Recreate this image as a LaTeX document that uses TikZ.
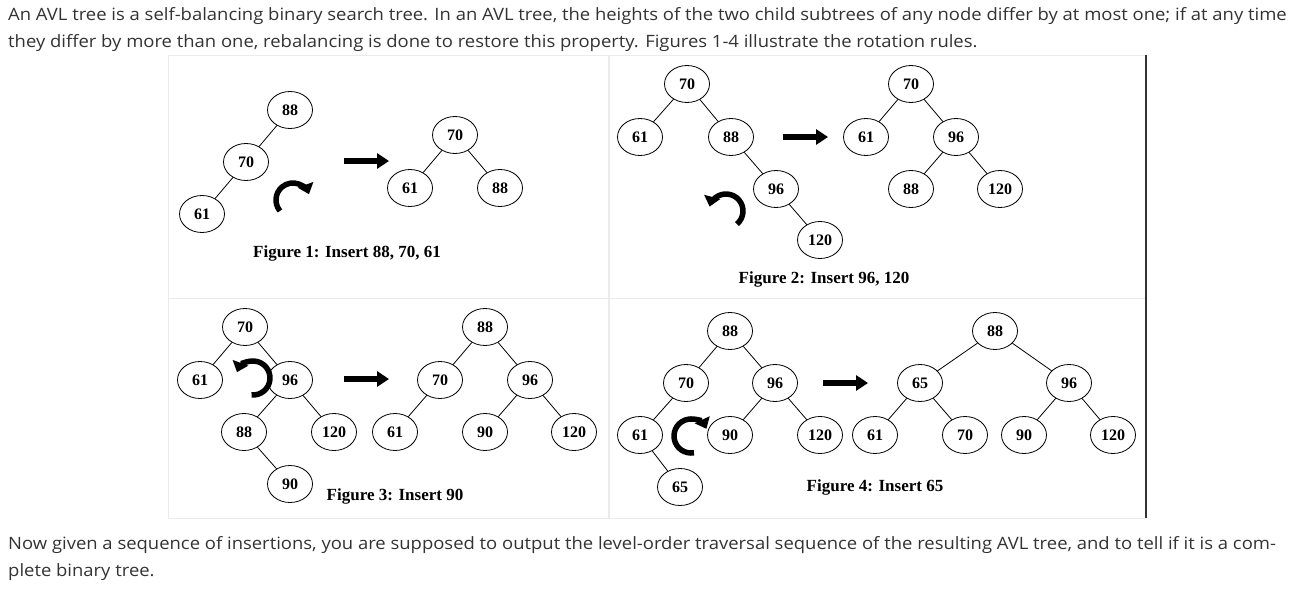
\documentclass[tikz,border=0pt]{standalone}
\usepackage{fontspec}
\setmainfont{Liberation Serif}
\newfontfamily\uifont[FakeStretch=1.085]{Open Sans}
\usetikzlibrary{shapes.geometric,arrows.meta}

\definecolor{txtgray}{HTML}{333333}
\definecolor{framegray}{HTML}{EBEBEB}

\begin{document}
\begin{tikzpicture}[
    x=1pt, y=-1pt,
    tnode/.style={ellipse, draw, line width=0.8pt, minimum width=45pt, minimum height=37pt, inner sep=0pt, font=\fontsize{16}{16}\selectfont\bfseries},
    edge/.style={line width=0.8pt},
    bigarrow/.style={line width=6pt, -{Triangle[length=12pt,width=15pt]}},
    turn/.style={line width=5.5pt, -{Triangle[length=10pt,width=16pt]}},
    caption/.style={font=\fontsize{17}{17}\selectfont\bfseries},
    para/.style={anchor=base west, inner sep=0pt, text=txtgray, font=\uifont\fontsize{17}{17}\selectfont}
]
\useasboundingbox (0,0) rectangle (1295,589);
\fill[white] (0,0) rectangle (1295,589);

% Text above and below
\node[para] (p1) at (8,20) {An AVL tree is a self-balancing binary search tree. In an AVL tree, the heights of the two child subtrees of any node differ by at most one; if at any time};
\node[para] (p2) at (8,47) {they differ by more than one, rebalancing is done to restore this property. Figures 1-4 illustrate the rotation rules.};
\node[para] (p3) at (8,549) {Now given a sequence of insertions, you are supposed to output the level-order traversal sequence of the resulting AVL tree, and to tell if it is a com-};
\node[para] (p4) at (8,576) {plete binary tree.};

% Frame
\draw[framegray, line width=1pt] (168,518) -- (168,55) -- (1146,55);
\draw[framegray, line width=1pt] (168,518) -- (1146,518);
\draw[framegray, line width=1pt] (168,298) -- (1146,298);
\draw[framegray, line width=2pt] (609,55) -- (609,518);
\draw[txtgray, line width=1.5pt] (1146,55) -- (1146,518);

% Figure 1
\node[tnode] (a88) at (290,110) {88};
\node[tnode] (a70) at (246,162) {70};
\node[tnode] (a61) at (202,214) {61};
\draw[edge] (a88) -- (a70);
\draw[edge] (a70) -- (a61);
\coordinate (a1) at (344,161);
\coordinate (a2) at (389,161);
\draw[bigarrow] (a1) -- (a2);
\coordinate (ac) at (293,200);
\draw[turn] (ac) ++(-220:17) arc[start angle=-220, end angle=-20, radius=17];
\node[tnode] (b70) at (455,135) {70};
\node[tnode] (b61) at (410,188) {61};
\node[tnode] (b88) at (500,188) {88};
\draw[edge] (b70) -- (b61);
\draw[edge] (b70) -- (b88);
\node[caption] (cap1) at (347,253) {Figure 1: Insert 88, 70, 61};

% Figure 2
\node[tnode] (c70) at (687,84) {70};
\node[tnode] (c61) at (640,137) {61};
\node[tnode] (c88) at (731,137) {88};
\node[tnode] (c96) at (776,189) {96};
\node[tnode] (c120) at (820,240) {120};
\draw[edge] (c70) -- (c61);
\draw[edge] (c70) -- (c88);
\draw[edge] (c88) -- (c96);
\draw[edge] (c96) -- (c120);
\coordinate (c1) at (783,137);
\coordinate (c2) at (828,137);
\draw[bigarrow] (c1) -- (c2);
\coordinate (cc) at (726,211);
\draw[turn] (cc) ++(50:17) arc[start angle=50, end angle=-165, radius=17];
\node[tnode] (d70) at (911,84) {70};
\node[tnode] (d61) at (866,137) {61};
\node[tnode] (d96) at (956,137) {96};
\node[tnode] (d88) at (911,189) {88};
\node[tnode] (d120) at (1000,189) {120};
\draw[edge] (d70) -- (d61);
\draw[edge] (d70) -- (d96);
\draw[edge] (d96) -- (d88);
\draw[edge] (d96) -- (d120);
\node[caption] (cap2) at (824,279) {Figure 2: Insert 96, 120};

% Figure 3
\node[tnode] (e70) at (245,327) {70};
\node[tnode] (e61) at (200,380) {61};
\node[tnode] (e96) at (290,380) {96};
\node[tnode] (e88) at (244,432) {88};
\node[tnode] (e120) at (334,432) {120};
\node[tnode] (e90) at (290,484) {90};
\draw[edge] (e70) -- (e61);
\draw[edge] (e70) -- (e96);
\draw[edge] (e96) -- (e88);
\draw[edge] (e96) -- (e120);
\draw[edge] (e88) -- (e90);
\coordinate (e1) at (344,379);
\coordinate (e2) at (389,379);
\draw[bigarrow] (e1) -- (e2);
\coordinate (ec) at (253,378);
\draw[turn] (ec) ++(95:17) arc[start angle=95, end angle=-160, radius=17];
\node[tnode] (f88) at (485,327) {88};
\node[tnode] (f70) at (440,380) {70};
\node[tnode] (f96) at (530,380) {96};
\node[tnode] (f61) at (395,432) {61};
\node[tnode] (f90) at (485,432) {90};
\node[tnode] (f120) at (574,432) {120};
\draw[edge] (f88) -- (f70);
\draw[edge] (f88) -- (f96);
\draw[edge] (f70) -- (f61);
\draw[edge] (f96) -- (f90);
\draw[edge] (f96) -- (f120);
\node[caption] (cap3) at (395,496) {Figure 3: Insert 90};

% Figure 4
\node[tnode] (g88) at (730,331) {88};
\node[tnode] (g70) at (686,383) {70};
\node[tnode] (g96) at (775,383) {96};
\node[tnode] (g61) at (640,435) {61};
\node[tnode] (g90) at (730,435) {90};
\node[tnode] (g120) at (820,435) {120};
\node[tnode] (g65) at (680,487) {65};
\draw[edge] (g88) -- (g70);
\draw[edge] (g88) -- (g96);
\draw[edge] (g70) -- (g61);
\draw[edge] (g96) -- (g90);
\draw[edge] (g96) -- (g120);
\draw[edge] (g61) -- (g65);
\coordinate (g1) at (823,383);
\coordinate (g2) at (868,383);
\draw[bigarrow] (g1) -- (g2);
\coordinate (gc) at (691,436);
\draw[turn] (gc) ++(80:17) arc[start angle=80, end angle=335, radius=17];
\node[tnode] (h88) at (995,331) {88};
\node[tnode] (h65) at (920,383) {65};
\node[tnode] (h96) at (1069,383) {96};
\node[tnode] (h61) at (875,435) {61};
\node[tnode] (h70) at (965,435) {70};
\node[tnode] (h90) at (1024,435) {90};
\node[tnode] (h120) at (1113,435) {120};
\draw[edge] (h88) -- (h65);
\draw[edge] (h88) -- (h96);
\draw[edge] (h65) -- (h61);
\draw[edge] (h65) -- (h70);
\draw[edge] (h96) -- (h90);
\draw[edge] (h96) -- (h120);
\node[caption] (cap4) at (875,487) {Figure 4: Insert 65};

\end{tikzpicture}
\end{document}
